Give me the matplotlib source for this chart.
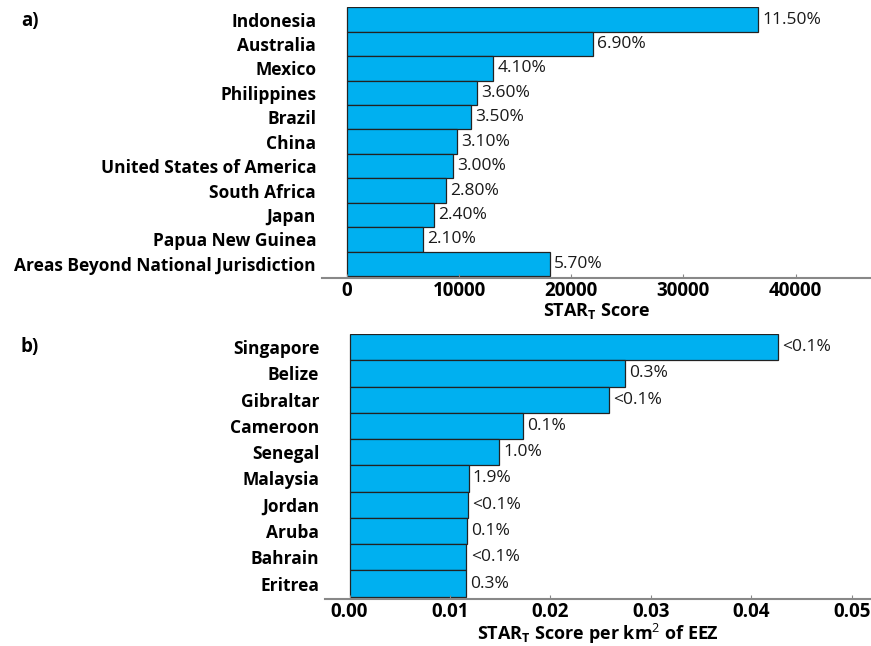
import matplotlib.pyplot as plt
import numpy as np
from matplotlib.ticker import FormatStrFormatter

# Fonte parecida com Segoe UI
plt.rcParams['font.family'] = 'Open Sans'
plt.rcParams['mathtext.fontset'] = 'custom'
plt.rcParams['mathtext.rm'] = 'Open Sans'
plt.rcParams['mathtext.bf'] = 'Open Sans:bold'

# Painel a) - pontuação total
paises_a = ['Indonesia', 'Australia', 'Mexico', 'Philippines', 'Brazil', 'China',
            'United States of America', 'South Africa', 'Japan', 'Papua New Guinea',
            'Areas Beyond National Jurisdiction']
score_a = [36670, 21970, 13040, 11580, 11100, 9820, 9470, 8860, 7750, 6790, 18080]
rotulos_a = ['11.50%', '6.90%', '4.10%', '3.60%', '3.50%', '3.10%', '3.00%',
             '2.80%', '2.40%', '2.10%', '5.70%']
ticks_a = [0, 10000, 20000, 30000, 40000]

# Painel b) - pontuação por km2 da ZEE
paises_b = ['Singapore', 'Belize', 'Gibraltar', 'Cameroon', 'Senegal', 'Malaysia',
            'Jordan', 'Aruba', 'Bahrain', 'Eritrea']
score_b = [0.04266, 0.02742, 0.02587, 0.01730, 0.01487, 0.01186, 0.01175,
           0.01168, 0.01164, 0.01160]
rotulos_b = ['<0.1%', '0.3%', '<0.1%', '0.1%', '1.0%', '1.9%', '<0.1%', '0.1%',
             '<0.1%', '0.3%']
ticks_b = [0.00, 0.01, 0.02, 0.03, 0.04, 0.05]

COR = '#00B0F0'


def desenhar_painel(ax, nomes, valores, rotulos, xlim, ybaixo, ticks, fmt, xlabel):
    y = np.arange(len(nomes))
    ax.barh(y, valores, height=1.0, color=COR, edgecolor='#222222', linewidth=0.9)
    for yi, v, r in zip(y, valores, rotulos):
        ax.annotate(r, xy=(v, yi), xytext=(3, 0), textcoords='offset points',
                    va='center', ha='left', fontsize=12.5, color='#1a1a1a')
    ax.set_yticks(y)
    ax.set_yticklabels(nomes, fontsize=12.5, fontweight='bold')
    ax.set_ylim(ybaixo, -0.5)
    ax.set_xlim(*xlim)
    ax.set_xticks(ticks)
    ax.xaxis.set_major_formatter(FormatStrFormatter(fmt))
    for lbl in ax.get_xticklabels():
        lbl.set_fontweight('bold')
        lbl.set_fontsize(13.5)
    ax.tick_params(axis='y', length=0, pad=4)
    ax.tick_params(axis='x', length=3, direction='in', color='#888888', pad=2)
    for lado in ['top', 'right', 'left']:
        ax.spines[lado].set_visible(False)
    ax.spines['bottom'].set_color('#888888')
    ax.spines['bottom'].set_linewidth(1.5)
    ax.set_xlabel(xlabel, fontsize=13, fontweight='bold', labelpad=0)


fig = plt.figure(figsize=(8.71, 6.46), dpi=100)

ax_a = fig.add_axes([0.3693, 0.5692, 0.6307, 0.4195])
desenhar_painel(ax_a, paises_a, score_a, rotulos_a, (-2250, 46730), 10.594,
                ticks_a, '%d', r'STAR$_\mathbf{T}$ Score')

ax_b = fig.add_axes([0.3729, 0.0728, 0.6271, 0.4102])
desenhar_painel(ax_b, paises_b, score_b, rotulos_b, (-0.00246, 0.0519), 9.588,
                ticks_b, '%.2f', r'STAR$_\mathbf{T}$ Score per km$^\mathrm{2}$ of EEZ')

fig.text(0.024, 0.968, 'a)', fontsize=13.5, fontweight='bold', va='center')
fig.text(0.024, 0.463, 'b)', fontsize=13.5, fontweight='bold', va='center')

fig.savefig('out.png', dpi=100)
